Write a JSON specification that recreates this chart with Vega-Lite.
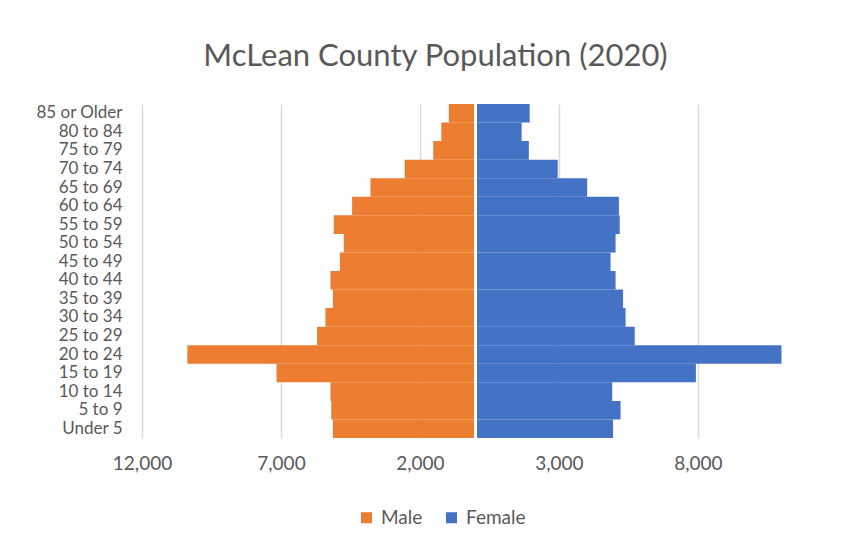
{
  "$schema": "https://vega.github.io/schema/vega-lite/v6.json",
  "width": 667,
  "height": 334,
  "autosize": {"type": "none"},
  "padding": {"left": 142, "top": 104, "right": 45, "bottom": 108},
  "background": "white",
  "config": {"font": "Lato", "view": {"stroke": null}},
  "title": {"text": "McLean County Population (2020)", "fontSize": 31, "fontWeight": "normal", "color": "#595959", "dx": -40, "offset": 30, "anchor": "middle", "font": "Lato"},
  "data": {"values": [
    {"age": "85 or Older", "sex": "Male", "population": -960},
    {"age": "80 to 84", "sex": "Male", "population": -1230},
    {"age": "75 to 79", "sex": "Male", "population": -1520},
    {"age": "70 to 74", "sex": "Male", "population": -2550},
    {"age": "65 to 69", "sex": "Male", "population": -3780},
    {"age": "60 to 64", "sex": "Male", "population": -4440},
    {"age": "55 to 59", "sex": "Male", "population": -5100},
    {"age": "50 to 54", "sex": "Male", "population": -4740},
    {"age": "45 to 49", "sex": "Male", "population": -4880},
    {"age": "40 to 44", "sex": "Male", "population": -5220},
    {"age": "35 to 39", "sex": "Male", "population": -5130},
    {"age": "30 to 34", "sex": "Male", "population": -5400},
    {"age": "25 to 29", "sex": "Male", "population": -5700},
    {"age": "20 to 24", "sex": "Male", "population": -10370},
    {"age": "15 to 19", "sex": "Male", "population": -7160},
    {"age": "10 to 14", "sex": "Male", "population": -5220},
    {"age": "5 to 9", "sex": "Male", "population": -5190},
    {"age": "Under 5", "sex": "Male", "population": -5130},
    {"age": "85 or Older", "sex": "Female", "population": 1950},
    {"age": "80 to 84", "sex": "Female", "population": 1660},
    {"age": "75 to 79", "sex": "Female", "population": 1920},
    {"age": "70 to 74", "sex": "Female", "population": 2960},
    {"age": "65 to 69", "sex": "Female", "population": 4020},
    {"age": "60 to 64", "sex": "Female", "population": 5160},
    {"age": "55 to 59", "sex": "Female", "population": 5190},
    {"age": "50 to 54", "sex": "Female", "population": 5040},
    {"age": "45 to 49", "sex": "Female", "population": 4860},
    {"age": "40 to 44", "sex": "Female", "population": 5040},
    {"age": "35 to 39", "sex": "Female", "population": 5310},
    {"age": "30 to 34", "sex": "Female", "population": 5400},
    {"age": "25 to 29", "sex": "Female", "population": 5730},
    {"age": "20 to 24", "sex": "Female", "population": 11010},
    {"age": "15 to 19", "sex": "Female", "population": 7930},
    {"age": "10 to 14", "sex": "Female", "population": 4920},
    {"age": "5 to 9", "sex": "Female", "population": 5220},
    {"age": "Under 5", "sex": "Female", "population": 4950}
  ]},
  "layer": [
    {
      "mark": {"type": "bar"},
      "encoding": {
        "y": {
          "field": "age", "type": "nominal",
          "sort": ["85 or Older", "80 to 84", "75 to 79", "70 to 74", "65 to 69", "60 to 64", "55 to 59", "50 to 54", "45 to 49", "40 to 44", "35 to 39", "30 to 34", "25 to 29", "20 to 24", "15 to 19", "10 to 14", "5 to 9", "Under 5"],
          "scale": {"paddingInner": 0, "paddingOuter": 0},
          "axis": {"title": null, "domain": false, "ticks": false, "labelPadding": 20, "labelFontSize": 17, "labelColor": "#595959", "labelFont": "Lato"}
        },
        "x": {
          "field": "population", "type": "quantitative",
          "scale": {"domain": [-12000, 12000], "nice": false, "zero": false},
          "axis": {"title": null, "values": [-12000, -7000, -2000, 3000, 8000], "labelExpr": "format(abs(datum.value), ',')", "labelFlush": false, "domain": false, "ticks": false, "grid": true, "gridColor": "#D9D9D9", "gridWidth": 1.5, "labelFontSize": 19, "labelColor": "#595959", "labelPadding": 16, "labelFont": "Lato"}
        },
        "color": {
          "field": "sex", "type": "nominal",
          "scale": {"domain": ["Male", "Female"], "range": ["#ED7D31", "#4472C4"]},
          "legend": {"title": null, "orient": "none", "direction": "horizontal", "legendX": 215, "legendY": 404, "symbolType": "square", "symbolSize": 121, "symbolStrokeWidth": 0, "labelFontSize": 19, "labelColor": "#595959", "labelFont": "Lato", "columnPadding": 19, "labelOffset": 5}
        }
      }
    },
    {
      "mark": {"type": "rule", "color": "white", "strokeWidth": 3},
      "encoding": {"x": {"datum": 0}}
    }
  ]
}
